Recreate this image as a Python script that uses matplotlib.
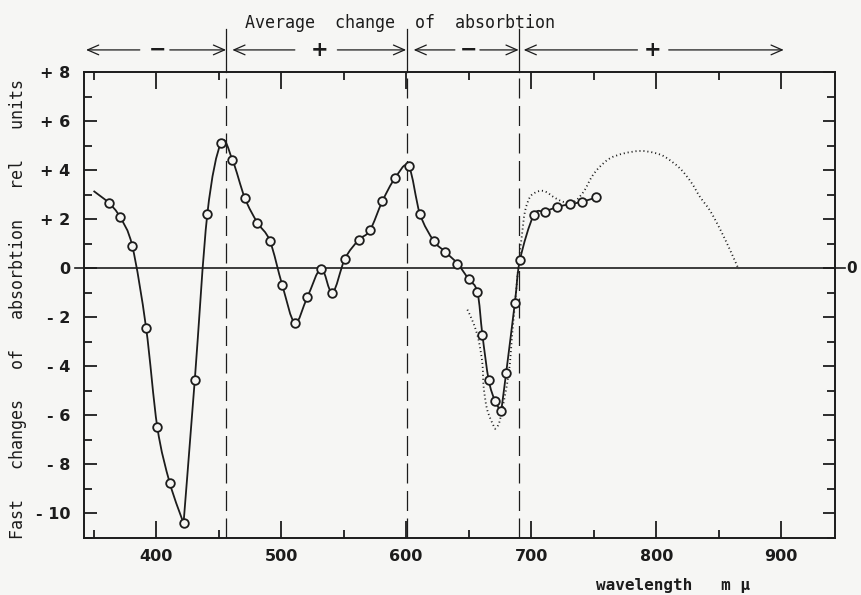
import matplotlib
matplotlib.use("Agg")
import matplotlib.pyplot as plt
from matplotlib.patches import PathPatch
from matplotlib.path import Path
from matplotlib.ticker import FixedLocator, MultipleLocator

# measured points (open circles), wavelength in m\u03bc
pts_wl = [362, 371, 381, 392, 401, 411, 422, 431, 441, 452, 461, 471, 481,
          491, 501, 511, 521, 532, 541, 551, 562, 571, 581, 591, 602, 611,
          622, 631, 641, 650, 657, 661, 666, 671, 676, 680, 687, 691, 702,
          711, 721, 731, 741, 752]
pts_val = [2.67, 2.10, 0.90, -2.42, -6.48, -8.76, -10.39, -4.54, 2.20, 5.12,
           4.43, 2.86, 1.86, 1.12, -0.70, -2.22, -1.18, -0.02, -1.00, 0.38,
           1.15, 1.54, 2.73, 3.66, 4.15, 2.22, 1.12, 0.68, 0.19, -0.45,
           -0.97, -2.72, -4.55, -5.40, -5.84, -4.27, -1.40, 0.33, 2.16,
           2.31, 2.50, 2.61, 2.71, 2.89]

# the trace starts left of the first circle
curve_start_wl = 350
curve_start_val = 3.15
# wavelengths where the trace turns sharply
solid_corners = [422, 676]

# second spectrum, dotted
dot_wl = [649, 654, 658, 661, 662, 665, 671, 675, 682, 685, 687.5, 690,
          692.5, 695, 699, 704, 708.5, 713, 718, 726, 734, 742, 748.5, 755,
          763, 774, 787, 798, 807, 819, 828, 835, 843, 851, 859, 866]
dot_val = [-1.69, -2.26, -2.94, -3.89, -4.84, -5.80, -6.54, -6.20, -4.30,
           -2.60, -1.20, 0.20, 1.30, 2.30, 2.90, 3.10, 3.16, 3.08, 2.90,
           2.70, 2.70, 3.12, 3.73, 4.14, 4.48, 4.68, 4.78, 4.71, 4.54, 4.07,
           3.50, 2.91, 2.35, 1.60, 0.75, -0.05]

# boundaries between regions of average change
bounds = [456, 601, 690]
# header arrows: (left end, left of sign, sign, right of sign, right end, sign)
regions = [(344, 387, 401.5, 411, 456, "\u2212"),
           (461, 511, 531, 545, 600, "+"),
           (606, 639, 650, 659, 690, "\u2212"),
           (694, 785, 797, 810, 902, "+")]

x_ticks = [400, 500, 600, 700, 800, 900]
y_ticks = [8, 6, 4, 2, 0, -2, -4, -6, -8, -10]
y_labels = ["+ 8", "+ 6", "+ 4", "+ 2", "0", "- 2", "- 4", "- 6", "- 8", "- 10"]

ink = "#1c1c1c"
paper = "#f6f6f4"
mono = "DejaVu Sans Mono"


def smooth_path(xs, ys, corners=()):
    # Catmull-Rom through the points as cubic Bezier segments;
    # the tangent is dropped at corner points so the trace turns sharply
    pts = list(zip(xs, ys))
    n = len(pts)

    def tangent(i):
        if pts[i][0] in corners:
            return (0.0, 0.0)
        a = pts[max(i - 1, 0)]
        b = pts[min(i + 1, n - 1)]
        return ((b[0] - a[0]) / 6, (b[1] - a[1]) / 6)

    verts = [pts[0]]
    codes = [Path.MOVETO]
    for i in range(n - 1):
        t1, t2 = tangent(i), tangent(i + 1)
        p1, p2 = pts[i], pts[i + 1]
        verts += [(p1[0] + t1[0], p1[1] + t1[1]),
                  (p2[0] - t2[0], p2[1] - t2[1]), p2]
        codes += [Path.CURVE4] * 3
    return Path(verts, codes)


fig = plt.figure(figsize=(8.61, 5.95), dpi=100, facecolor=paper)
ax = fig.add_axes([0.0976, 0.0958, 0.8722, 0.7832], facecolor=paper)
ax.set_xlim(342.4, 943)
ax.set_ylim(-11, 8)

# zero line runs past both spines
ax.plot([335, 951], [0, 0], color=ink, lw=1.2, clip_on=False, zorder=2)
ax.text(956.5, 0, "0", ha="center", va="center", fontsize=11,
        fontweight="bold", color=ink)

for b in bounds:
    ax.plot([b, b], [-11, 8], color=ink, lw=0.9, dashes=(16, 6), zorder=1)
    ax.plot([b, b], [8, 9.76], color=ink, lw=0.9, clip_on=False)

for left, lin, sign_x, rin, right, sign in regions:
    style = "->,head_length=0.8,head_width=0.35"
    ax.annotate("", xy=(left, 8.9), xytext=(lin, 8.9), annotation_clip=False,
                arrowprops=dict(arrowstyle=style, lw=0.9, color=ink,
                                shrinkA=0, shrinkB=0))
    ax.annotate("", xy=(right, 8.9), xytext=(rin, 8.9), annotation_clip=False,
                arrowprops=dict(arrowstyle=style, lw=0.9, color=ink,
                                shrinkA=0, shrinkB=0))
    ax.text(sign_x, 8.9, sign, ha="center", va="center", fontsize=15,
            fontweight="bold", color=ink, clip_on=False)

ax.text(595, 10.0, "Average  change  of  absorbtion", ha="center",
        va="center", fontsize=12, family=mono, color=ink, clip_on=False)

# dotted trace
dotted = PathPatch(smooth_path(dot_wl, dot_val, corners=[671]), fill=False,
                   ec=ink, lw=1.3, linestyle=(0, (0.6, 1.6)), zorder=3)
ax.add_patch(dotted)

# solid trace through the measured points
curve_wl = [curve_start_wl] + pts_wl
curve_val = [curve_start_val] + pts_val
solid = PathPatch(smooth_path(curve_wl, curve_val, corners=solid_corners),
                  fill=False, ec=ink, lw=1.3, zorder=4)
ax.add_patch(solid)
ax.plot(pts_wl, pts_val, linestyle="none", marker="o", ms=6.2, mew=1.3,
        mec=ink, mfc=paper, zorder=5)

ax.xaxis.set_major_locator(FixedLocator(x_ticks))
ax.xaxis.set_minor_locator(MultipleLocator(50))
ax.yaxis.set_major_locator(FixedLocator(y_ticks))
ax.set_yticklabels(y_labels)
ax.yaxis.set_minor_locator(MultipleLocator(1))
ax.tick_params(which="both", direction="in", top=True, right=True,
               colors=ink, width=1.3)
ax.tick_params(axis="x", which="major", length=12, pad=8, labelsize=11.5)
ax.tick_params(axis="x", which="minor", length=6)
ax.tick_params(axis="y", which="major", length=9, pad=10, labelsize=11.5)
ax.tick_params(axis="y", which="minor", length=6)
for lab in ax.get_xticklabels() + ax.get_yticklabels():
    lab.set_fontweight("bold")
for side in ax.spines.values():
    side.set_linewidth(1.4)
    side.set_color(ink)

fig.text(0.021, 0.48, "Fast   changes   of   absorbtion   rel   units",
         rotation=90, ha="center", va="center", fontsize=12, family=mono,
         color=ink)
fig.text(0.782, 0.008, "wavelength   m \u03bc", ha="center", va="baseline",
         fontsize=11.5, family=mono, fontweight="bold", color=ink)

fig.savefig("out.png", dpi=100, facecolor=paper)
